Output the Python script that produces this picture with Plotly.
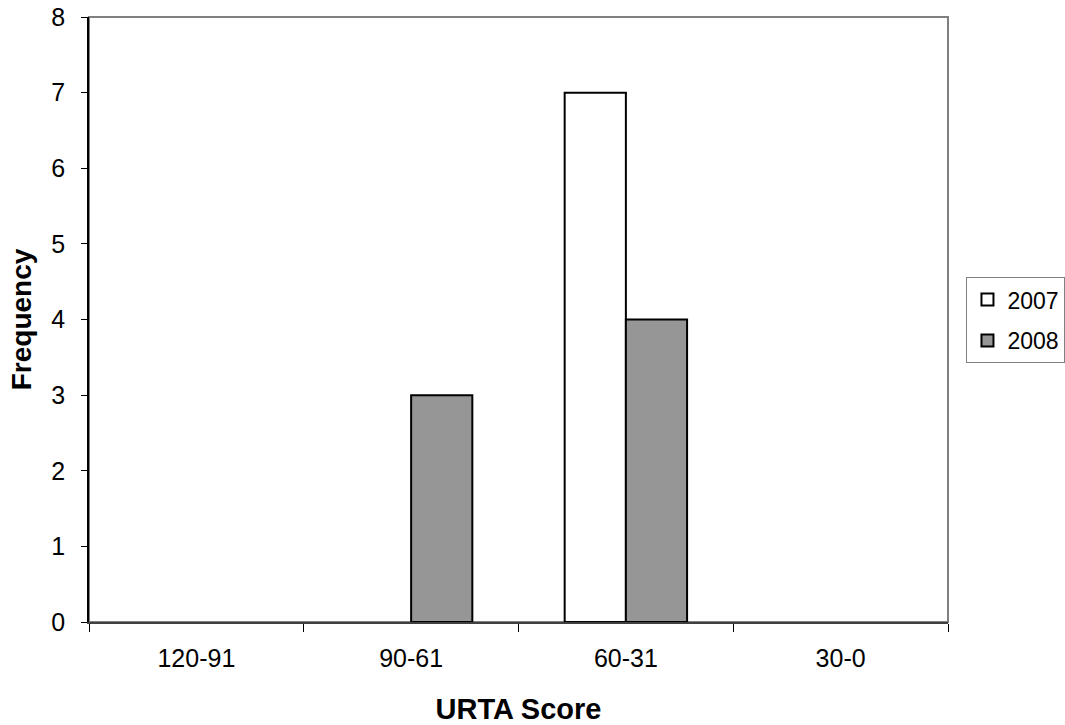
import plotly.graph_objects as go

# URTA score bands and frequency counts per year
score_bands = ["120-91", "90-61", "60-31", "30-0"]
freq_2007 = [0, 0, 7, 0]
freq_2008 = [0, 3, 4, 0]
y_ticks = [0, 1, 2, 3, 4, 5, 6, 7, 8]

FONT = "Liberation Sans, Arial, sans-serif"


def drawn(values):
    # empty bins get no bar outline on the baseline
    return [v if v else None for v in values]


fig = go.Figure()
fig.add_trace(go.Bar(
    x=score_bands, y=drawn(freq_2007), name="2007", legendgroup="a",
    marker=dict(color="#FFFFFF", line=dict(color="#000000", width=2)),
))
fig.add_trace(go.Bar(
    x=score_bands, y=drawn(freq_2008), name="2008", legendgroup="b",
    marker=dict(color="#969696", line=dict(color="#000000", width=2)),
))

fig.update_layout(
    width=1065, height=725,
    margin=dict(l=89, r=117, t=17, b=103, autoexpand=False),
    paper_bgcolor="#FFFFFF", plot_bgcolor="#FFFFFF",
    barmode="group", bargap=0.43, bargroupgap=0,
    font=dict(family=FONT, size=25, color="#000000"),
    showlegend=True,
    legend=dict(
        x=1.0215, y=0.57, xanchor="left", yanchor="top",
        bordercolor="#808080", borderwidth=1,
        font=dict(family=FONT, size=23),
        tracegroupgap=8,
        itemwidth=30,
    ),
    shapes=[dict(type="rect", xref="paper", yref="paper", x0=0, x1=1, y0=0, y1=1,
                 line=dict(color="#808080", width=2), layer="below")],
)

fig.update_xaxes(
    title=dict(text="<b>URTA Score</b>", font=dict(family=FONT, size=29), standoff=30),
    showgrid=False, showline=True, linecolor="#404040", linewidth=2,
    ticks="outside", ticklen=8, tickcolor="#000000", tickwidth=1,
    tickson="boundaries", tickfont=dict(size=25), ticklabelstandoff=13,
)
fig.update_yaxes(
    title=dict(text="<b>Frequency</b>", font=dict(family=FONT, size=28), standoff=12),
    range=[0, 8], tickvals=y_ticks, showgrid=False, zeroline=False,
    showline=True, linecolor="#000000", linewidth=1.5,
    ticks="outside", ticklen=6, tickcolor="#000000", tickwidth=1,
    tickfont=dict(size=25), ticklabelstandoff=11,
)

fig.write_html("out.html")
